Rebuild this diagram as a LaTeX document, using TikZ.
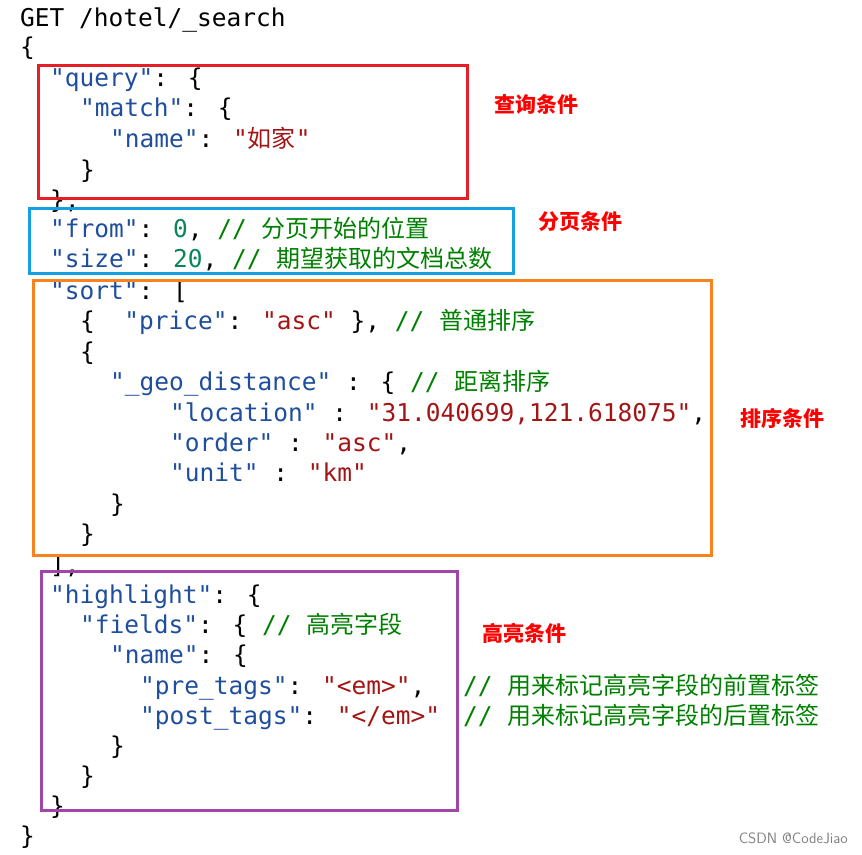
\documentclass[tikz,border=0pt]{standalone}
\usepackage{fontspec}
\newfontfamily\code{DejaVu Sans Mono}
\newfontfamily\cjk{Noto Sans CJK SC}
\definecolor{keyc}{HTML}{1F4E9C}
\definecolor{strc}{HTML}{A31515}
\definecolor{numc}{HTML}{098658}
\definecolor{comc}{HTML}{008000}
\newcommand\Kx[1]{{\color{keyc}#1}}
\newcommand\Sx[1]{{\color{strc}#1}}
\newcommand\Nx[1]{{\color{numc}#1}}
\newcommand\Cx[1]{{\color{comc}#1}}
\newcommand\Hz[1]{{\cjk\fontsize{24}{24}\selectfont #1}}
\tikzset{ln/.style={anchor=base west,inner sep=0pt,font=\code\fontsize{24.5}{25}\selectfont},
 box/.style={line width=3pt},
 lab/.style={text=red,font=\cjk\bfseries\fontsize{21}{22}\selectfont,inner sep=0pt}}
\begin{document}
\begin{tikzpicture}[x=1pt,y=1pt]
\useasboundingbox (0,0) rectangle (862,-854);
\node[ln] (l1) at (20,-26) {GET /hotel/\_search};
\node[ln] (l2) at (20,-55) {\{};
\node[ln] (l3) at (50,-86) {\Kx{"query"}: \{};
\node[ln] (l4) at (80,-116) {\Kx{"match"}: \{};
\node[ln] (l5) at (110,-147) {\Kx{"name"}: \Sx{"\Hz{如家}"}};
\node[ln] (l6) at (80,-178) {\}};
\node[ln] (l7) at (50,-208) {\},};
\node[ln] (l8) at (50,-237) {\Kx{"from"}: \Nx{0}, \Cx{// \Hz{分页开始的位置}}};
\node[ln] (l9) at (50,-267) {\Kx{"size"}: \Nx{20}, \Cx{// \Hz{期望获取的文档总数}}};
\node[ln] (l10) at (50,-299) {\Kx{"sort"}: [};
\node[ln] (l11) at (80,-329) {\{~~\Kx{"price"}: \Sx{"asc"} \}, \Cx{// \Hz{普通排序}}};
\node[ln] (l12) at (80,-360) {\{};
\node[ln] (l13) at (110,-390) {\Kx{"\_geo\_distance"} : \{ \Cx{// \Hz{距离排序}}};
\node[ln] (l14) at (170,-421) {\Kx{"location"} : \Sx{"31.040699,121.618075"},};
\node[ln] (l15) at (170,-451) {\Kx{"order"} : \Sx{"asc"},};
\node[ln] (l16) at (170,-481) {\Kx{"unit"} : \Sx{"km"}};
\node[ln] (l17) at (110,-512) {\}};
\node[ln] (l18) at (80,-542) {\}};
\node[ln] (l19) at (50,-573) {],};
\node[ln] (l20) at (50,-603) {\Kx{"highlight"}: \{};
\node[ln] (l21) at (80,-633) {\Kx{"fields"}: \{ \Cx{// \Hz{高亮字段}}};
\node[ln] (l22) at (110,-663) {\Kx{"name"}: \{};
\node[ln] (l23) at (140,-694) {\Kx{"pre\_tags"}: \Sx{"<em>"},};
\node[ln] (l24) at (140,-724) {\Kx{"post\_tags"}: \Sx{"</em>"}};
\node[ln] (c23) at (463,-694) {\Cx{// \Hz{用来标记高亮字段的前置标签}}};
\node[ln] (c24) at (463,-724) {\Cx{// \Hz{用来标记高亮字段的后置标签}}};
\node[ln] (l25) at (110,-754) {\}};
\node[ln] (l26) at (80,-784) {\}};
\node[ln] (l27) at (50,-814) {\}};
\node[ln] (l28) at (20,-844) {\}};
\draw[box,draw={rgb,255:red,230;green,30;blue,40}] (38,-65) rectangle (467,-198);
\draw[box,draw={rgb,255:red,20;green,160;blue,225}] (29,-208) rectangle (513,-273);
\draw[box,draw={rgb,255:red,250;green,130;blue,30}] (33,-280) rectangle (711,-555);
\draw[box,draw={rgb,255:red,160;green,70;blue,170}] (41,-571) rectangle (457,-810);
\node[lab] (t1) at (536,-104) {查询条件};
\node[lab] (t2) at (580,-222) {分页条件};
\node[lab] (t3) at (782,-418) {排序条件};
\node[lab] (t4) at (524,-633) {高亮条件};
\node[text=gray,font=\fontsize{15}{15}\selectfont\sffamily,anchor=east,inner sep=0pt] (wm) at (848,-838) {CSDN @CodeJiao};
\end{tikzpicture}
\end{document}
